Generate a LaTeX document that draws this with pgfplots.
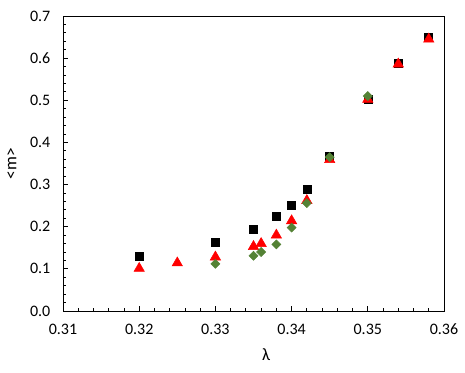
\documentclass[border=0pt]{standalone}
\usepackage{fontspec}
\setmainfont{Carlito}
\usepackage{pgfplots}
\pgfplotsset{compat=1.18}
\definecolor{mkgreen}{RGB}{84,130,53}
\definecolor{mkred}{RGB}{255,0,0}
\begin{document}
\begin{tikzpicture}
\begin{axis}[
    scale only axis,
    width=285.75pt, height=221.25pt,
    xmin=0.31, xmax=0.36, ymin=0, ymax=0.7,
    xtick={0.31,0.32,0.33,0.34,0.35,0.36},
    ytick={0,0.1,0.2,0.3,0.4,0.5,0.6,0.7},
    minor x tick num=4, minor y tick num=4,
    xtick pos=lower, ytick pos=left,
    tick align=inside,
    major tick length=3.75pt, minor tick length=2.25pt,
    tick style={black, line width=0.6pt},
    axis line style={black, line width=0.75pt},
    font=\fontsize{12}{14}\selectfont,
    /pgf/number format/assume math mode=true,
    scaled x ticks=false, scaled y ticks=false,
    xticklabel style={yshift=-6pt, /pgf/number format/.cd, fixed, fixed zerofill, precision=2},
    yticklabel style={xshift=-6pt, /pgf/number format/.cd, fixed, fixed zerofill, precision=1},
    xlabel={λ}, ylabel={<m>},
    xlabel style={at={(axis description cs:0.533,-0.149)}, anchor=center, font=\fontsize{13}{15}\selectfont},
    ylabel style={at={(axis description cs:-0.134,0.5)}, anchor=center, font=\fontsize{13}{15}\selectfont},
]
\addplot[only marks, mark=square*, mark size=3pt, color=black] coordinates {
    (0.320,0.129) (0.330,0.164) (0.335,0.194) (0.338,0.225) (0.340,0.251)
    (0.342,0.290) (0.345,0.366) (0.350,0.503) (0.354,0.589) (0.358,0.650)
};
\addplot[only marks, mark=triangle*, mark size=4.5pt, color=mkred] coordinates {
    (0.320,0.101) (0.325,0.114) (0.330,0.128) (0.335,0.153) (0.336,0.160)
    (0.338,0.180) (0.340,0.214) (0.342,0.262) (0.345,0.359) (0.350,0.502)
    (0.354,0.586) (0.358,0.645)
};
\addplot[only marks, mark=square*, mark size=2.4pt, mark options={rotate=45}, color=mkgreen] coordinates {
    (0.330,0.112) (0.335,0.131) (0.336,0.140) (0.338,0.158) (0.340,0.198)
    (0.342,0.256) (0.345,0.365) (0.350,0.510)
};
\coordinate (bl) at (rel axis cs:0,0);
\coordinate (tr) at (rel axis cs:1,1);
\end{axis}
\pgfresetboundingbox
\path ([shift={(-47.25pt,-45.75pt)}]bl) rectangle ([shift={(15.75pt,12pt)}]tr);
\end{tikzpicture}
\end{document}
